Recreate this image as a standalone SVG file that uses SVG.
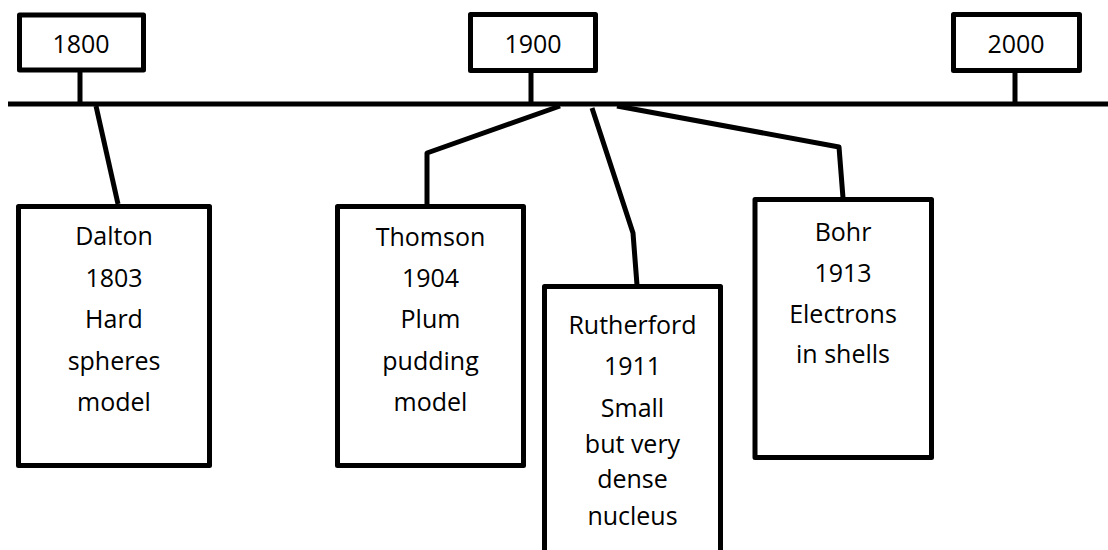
<svg xmlns="http://www.w3.org/2000/svg" width="1108" height="550" viewBox="0 0 1108 550">
<style>
.box{fill:#fff;stroke:#000;stroke-width:5;stroke-linejoin:round}
.ln{fill:none;stroke:#000;stroke-width:5;stroke-linejoin:round}
text{font-family:"Open Sans","Liberation Sans",sans-serif;font-size:25px;fill:#000;text-anchor:middle}
</style>
<rect width="1108" height="550" fill="#fff"/>
<g id="connectors">
<line class="ln" x1="8" y1="104" x2="1108" y2="104"/>
<line class="ln" x1="80" y1="70" x2="80" y2="104"/>
<line class="ln" x1="531" y1="71" x2="531" y2="104"/>
<line class="ln" x1="1015" y1="71" x2="1015" y2="104"/>
<polyline class="ln" points="96,106 118,204"/>
<polyline class="ln" points="560,106 427,153 427,204"/>
<polyline class="ln" points="592,108 633,233 637,285"/>
<polyline class="ln" points="617,106 839,147 843,198"/>
</g>
<g id="y1800"><rect class="box" x="19.5" y="15" width="124" height="55"/><text x="81" y="53">1800</text></g>
<g id="y1900"><rect class="box" x="470.5" y="14.5" width="125" height="56"/><text x="533" y="53">1900</text></g>
<g id="y2000"><rect class="box" x="953.5" y="14.5" width="126" height="56"/><text x="1016" y="53">2000</text></g>
<g id="dalton"><rect class="box" x="18.5" y="206.5" width="191" height="259"/>
<text x="114" y="245">Dalton</text><text x="114" y="287">1803</text><text x="114" y="328">Hard</text><text x="114" y="370">spheres</text><text x="114" y="411">model</text></g>
<g id="thomson"><rect class="box" x="337.5" y="206.5" width="186" height="259"/>
<text x="430.5" y="246">Thomson</text><text x="430.5" y="287">1904</text><text x="430.5" y="328">Plum</text><text x="430.5" y="370">pudding</text><text x="430.5" y="411">model</text></g>
<g id="rutherford"><rect class="box" x="544.5" y="286.5" width="176" height="280"/>
<text x="632.5" y="334">Rutherford</text><text x="632.5" y="375">1911</text><text x="632.5" y="416.5">Small</text><text x="632.5" y="453">but very</text><text x="632.5" y="488">dense</text><text x="632.5" y="525">nucleus</text></g>
<g id="bohr"><rect class="box" x="755" y="199.5" width="176.5" height="258"/>
<text x="843" y="240.5">Bohr</text><text x="843" y="281.5">1913</text><text x="843" y="322.5">Electrons</text><text x="843" y="363">in shells</text></g>
</svg>
